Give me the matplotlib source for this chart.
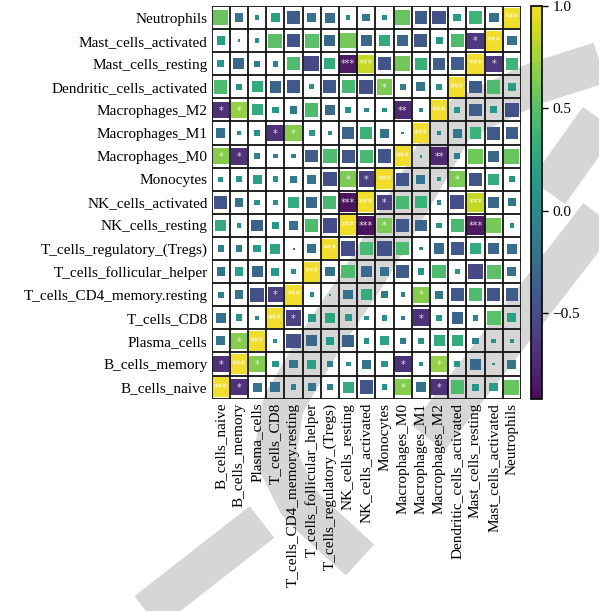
import numpy as np
import matplotlib
matplotlib.use("Agg")
import matplotlib.pyplot as plt
from matplotlib.patches import Rectangle
from matplotlib.colors import Normalize, ListedColormap
from matplotlib.cm import ScalarMappable
from matplotlib.lines import Line2D

plt.rcParams['font.family'] = ['Liberation Serif', 'DejaVu Serif']

cell_types = [
    "B_cells_naive", "B_cells_memory", "Plasma_cells", "T_cells_CD8",
    "T_cells_CD4_memory.resting", "T_cells_follicular_helper",
    "T_cells_regulatory_(Tregs)", "NK_cells_resting", "NK_cells_activated",
    "Monocytes", "Macrophages_M0", "Macrophages_M1", "Macrophages_M2",
    "Dendritic_cells_activated", "Mast_cells_resting", "Mast_cells_activated",
    "Neutrophils",
]

# lower triangle of the correlation matrix, row i holds r(i, 0..i-1)
corr_lower = [
    [],
    [-0.70],
    [-0.20, 0.65],
    [-0.25, 0.12, 0.04],
    [-0.08, -0.18, -0.50, -0.60],
    [-0.18, 0.20, -0.30, 0.15, 0.05],
    [-0.10, -0.10, 0.15, 0.25, 0.01, -0.22],
    [0.30, 0.06, -0.35, 0.12, -0.22, 0.45, -0.52],
    [-0.45, -0.20, 0.08, 0.05, 0.30, -0.30, 0.42, -0.88],
    [0.07, 0.10, 0.20, 0.08, -0.12, -0.20, -0.50, 0.62, -0.60],
    [0.65, -0.70, -0.10, -0.05, -0.05, -0.40, 0.45, -0.42, 0.42, -0.45],
    [-0.22, 0.05, 0.08, -0.70, 0.65, 0.10, 0.03, -0.33, 0.35, -0.20, 0.02],
    [-0.70, 0.70, 0.30, 0.10, -0.15, 0.45, -0.28, 0.08, -0.05, 0.05, -0.75, -0.04],
    [0.45, 0.08, 0.30, -0.33, -0.42, 0.06, -0.42, 0.42, -0.50, 0.62, -0.10, -0.20, 0.08],
    [0.12, -0.30, -0.10, -0.08, 0.45, -0.55, 0.30, -0.85, 0.85, -0.45, 0.58, 0.35, -0.38, -0.40],
    [0.18, 0.02, 0.05, 0.50, -0.45, 0.50, -0.30, 0.60, -0.30, 0.30, -0.30, -0.42, 0.12, 0.45, -0.65],
    [0.55, -0.20, 0.05, 0.20, -0.40, -0.20, -0.25, 0.05, -0.15, 0.08, 0.55, -0.40, -0.48, 0.15, 0.37, -0.23],
]

# significance marks (row, column, label) for the off-diagonal pairs
sig_rows = [1, 2, 4, 8, 9, 9, 10, 10, 11, 11, 12, 12, 12, 13, 14, 14, 15]
sig_cols = [0, 1, 3, 7, 7, 8, 0, 1, 3, 4, 0, 1, 10, 9, 7, 8, 14]
sig_marks = ["*", "*", "*", "***", "*", "*", "*", "*", "*", "*", "*", "*", "**",
             "*", "***", "***", "*"]

n = len(cell_types)
corr = np.eye(n)
for i, row in enumerate(corr_lower):
    for j, v in enumerate(row):
        corr[i, j] = v
        corr[j, i] = v

marks = {}
for i in range(n):
    marks[(i, i)] = "***"
for i, j, m in zip(sig_rows, sig_cols, sig_marks):
    marks[(i, j)] = m
    marks[(j, i)] = m

W, H = 599, 611
fig = plt.figure(figsize=(W / 100, H / 100), dpi=100)
fig.patch.set_facecolor("white")

# light grey background emblem, drawn in figure pixels (y measured from top)
def stroke(xs, ys, width_px):
    xs = np.asarray(xs, float)
    ys = np.asarray(ys, float)
    fig.add_artist(Line2D(xs / W, 1 - ys / H, transform=fig.transFigure,
                          color="#d6d6d6", lw=width_px * 0.72,
                          solid_capstyle="butt", solid_joinstyle="round",
                          zorder=0))

t = np.linspace(0, 1, 60)
ctrl_x = [615, 530, 455, 410, 365, 318, 283, 275, 300, 360]
ctrl_y = [58, 85, 122, 200, 275, 345, 405, 455, 505, 560]
tt = np.linspace(0, 1, len(ctrl_x))
stroke(np.interp(t, tt, ctrl_x), np.interp(t, tt, ctrl_y), 42)
stroke([548, 605], [192, 112], 42)
stroke([620, 428], [190, 438], 42)
stroke([130, 262], [625, 522], 40)

ax = fig.add_axes([0.3534, 0.3475, 0.5164, 0.6427])
ax.patch.set_alpha(0)
cax = fig.add_axes([0.8865, 0.3475, 0.0185, 0.6427])

base = plt.get_cmap("viridis")(np.linspace(0, 1, 256))
base[:, :3] = base[:, :3] * 0.9 + 0.1 * 0.5
cmap = ListedColormap(base)
norm = Normalize(vmin=-0.92, vmax=1.0)

# square side grows with sqrt(|r|) so the area follows |r|
sx, sy = 1.10, 0.866
for i in range(n):
    for j in range(n):
        r = corr[i, j]
        w = min(1.0, sx * np.sqrt(abs(r)))
        h = min(1.0, sy * np.sqrt(abs(r)))
        ax.add_patch(Rectangle((j + 0.5 - w / 2, i + 0.5 - h / 2), w, h,
                               facecolor=cmap(norm(r)), edgecolor="none", zorder=2))
        m = marks.get((i, j))
        if m:
            ax.text(j + 0.5, i + 0.47, m, ha="center", va="center",
                    fontsize=7, color="white", alpha=0.85, zorder=3,
                    family="DejaVu Sans")

for k in range(n + 1):
    ax.axhline(k, color="#111111", lw=1.3, zorder=4)
    ax.axvline(k, color="#111111", lw=1.3, zorder=4)

ax.set_xlim(0, n)
ax.set_ylim(0, n)
ax.set_xticks(np.arange(n) + 0.5)
ax.set_yticks(np.arange(n) + 0.5)
ax.set_xticklabels(cell_types, rotation=90, fontsize=11)
ax.set_yticklabels(cell_types, fontsize=11)
ax.tick_params(length=0, pad=3)
for s in ax.spines.values():
    s.set_visible(False)

cb = fig.colorbar(ScalarMappable(norm=norm, cmap=cmap), cax=cax,
                  ticks=[-0.5, 0.0, 0.5, 1.0])
cb.ax.tick_params(labelsize=11, length=4, width=1)
cb.outline.set_linewidth(1.2)

fig.savefig("out.png", dpi=100)
